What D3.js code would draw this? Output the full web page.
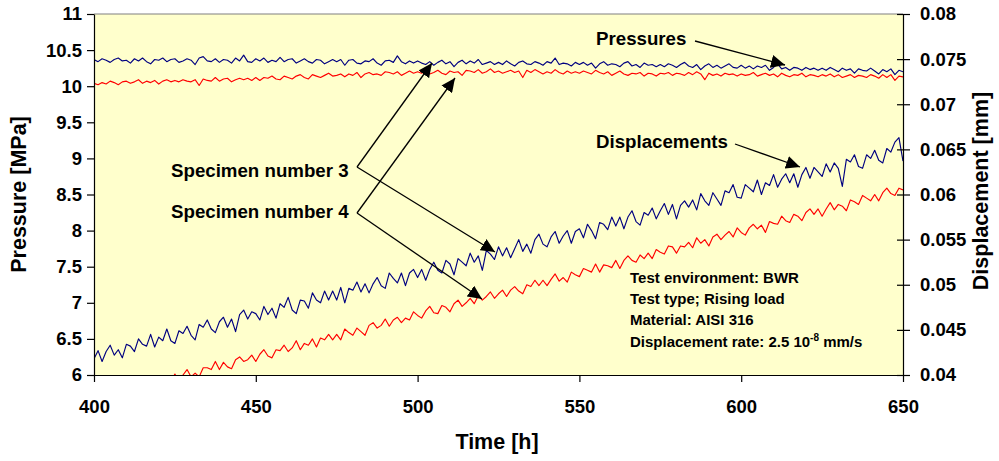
<!DOCTYPE html>
<html>
<head>
<meta charset="utf-8">
<script src="https://cdn.jsdelivr.net/npm/d3@7"></script>
<style>
  html, body { margin: 0; padding: 0; background: #ffffff; }
  svg { display: block; font-family: "Liberation Sans", Arial, sans-serif; font-weight: bold; }
</style>
</head>
<body>
<svg id="chart" width="999" height="461"></svg>
<script>
// Logger sampling: one reading every 1.25 h starting at 400 h
const timeStart = 400;
const timeStep = 1.25;

// Specimen 3 pressure [MPa]
const spec3Pressure = [
  10.37, 10.34, 10.38, 10.36, 10.33, 10.37, 10.39, 10.35, 10.36, 10.32, 10.38, 10.35, 10.39, 10.34, 10.31, 10.37, 10.36, 10.39, 10.34, 10.37,
  10.38, 10.33, 10.35, 10.38, 10.36, 10.30, 10.39, 10.41, 10.35, 10.34, 10.38, 10.33, 10.37, 10.36, 10.32, 10.39, 10.35, 10.43, 10.34, 10.33,
  10.38, 10.35, 10.39, 10.33, 10.36, 10.34, 10.40, 10.34, 10.37, 10.38, 10.32, 10.35, 10.38, 10.34, 10.32, 10.37, 10.36, 10.31, 10.34, 10.37,
  10.34, 10.37, 10.29, 10.36, 10.37, 10.32, 10.31, 10.35, 10.34, 10.38, 10.32, 10.29, 10.35, 10.36, 10.33, 10.42, 10.34, 10.31, 10.35, 10.32,
  10.35, 10.32, 10.30, 10.34, 10.29, 10.33, 10.36, 10.31, 10.34, 10.27, 10.33, 10.36, 10.31, 10.35, 10.32, 10.37, 10.30, 10.32, 10.34, 10.30,
  10.33, 10.30, 10.35, 10.31, 10.28, 10.33, 10.35, 10.31, 10.30, 10.34, 10.32, 10.29, 10.34, 10.32, 10.39, 10.30, 10.32, 10.31, 10.28, 10.33,
  10.30, 10.33, 10.29, 10.32, 10.25, 10.31, 10.34, 10.29, 10.31, 10.30, 10.27, 10.32, 10.34, 10.28, 10.30, 10.26, 10.32, 10.29, 10.30, 10.27,
  10.30, 10.27, 10.31, 10.29, 10.26, 10.30, 10.33, 10.28, 10.26, 10.30, 10.23, 10.28, 10.31, 10.26, 10.29, 10.25, 10.28, 10.31, 10.26, 10.25,
  10.29, 10.25, 10.28, 10.24, 10.28, 10.26, 10.29, 10.22, 10.26, 10.31, 10.24, 10.26, 10.22, 10.26, 10.25, 10.22, 10.26, 10.23, 10.25, 10.22,
  10.25, 10.22, 10.26, 10.23, 10.20, 10.25, 10.22, 10.24, 10.18, 10.24, 10.22, 10.21, 10.25, 10.21, 10.17, 10.23, 10.20, 10.24, 10.16, 10.22, 10.20
];

// Specimen 4 pressure [MPa]
const spec4Pressure = [
  10.04, 10.02, 10.05, 10.03, 10.07, 10.05, 10.02, 10.06, 10.07, 10.04, 10.06, 10.09, 10.04, 10.07, 10.05, 10.08, 10.03, 10.07, 10.09, 10.06,
  10.08, 10.06, 10.09, 10.07, 10.06, 10.09, 10.01, 10.10, 10.08, 10.07, 10.12, 10.07, 10.10, 10.11, 10.06, 10.09, 10.11, 10.09, 10.11, 10.08,
  10.12, 10.08, 10.12, 10.11, 10.14, 10.10, 10.09, 10.14, 10.12, 10.10, 10.14, 10.16, 10.12, 10.10, 10.16, 10.14, 10.12, 10.15, 10.18, 10.14,
  10.15, 10.17, 10.13, 10.17, 10.15, 10.19, 10.12, 10.17, 10.19, 10.16, 10.17, 10.15, 10.20, 10.19, 10.17, 10.20, 10.15, 10.18, 10.21, 10.18,
  10.20, 10.18, 10.21, 10.17, 10.19, 10.22, 10.18, 10.16, 10.21, 10.19, 10.20, 10.15, 10.22, 10.21, 10.19, 10.23, 10.18, 10.20, 10.24, 10.19,
  10.21, 10.18, 10.20, 10.22, 10.19, 10.21, 10.12, 10.22, 10.19, 10.23, 10.20, 10.17, 10.20, 10.18, 10.23, 10.19, 10.17, 10.21, 10.18, 10.20,
  10.18, 10.21, 10.19, 10.17, 10.22, 10.19, 10.17, 10.20, 10.15, 10.18, 10.21, 10.17, 10.15, 10.18, 10.17, 10.19, 10.14, 10.18, 10.17, 10.14,
  10.18, 10.17, 10.19, 10.15, 10.18, 10.17, 10.15, 10.19, 10.16, 10.20, 10.17, 10.09, 10.18, 10.15, 10.17, 10.14, 10.18, 10.16, 10.17, 10.14,
  10.17, 10.15, 10.16, 10.19, 10.14, 10.16, 10.18, 10.15, 10.17, 10.13, 10.18, 10.15, 10.13, 10.16, 10.15, 10.18, 10.13, 10.16, 10.15, 10.13,
  10.16, 10.14, 10.17, 10.13, 10.16, 10.12, 10.14, 10.16, 10.12, 10.15, 10.14, 10.12, 10.16, 10.14, 10.11, 10.16, 10.12, 10.16, 10.08, 10.14, 10.13
];

// Specimen 3 displacement [mm]
const spec3Displacement = [
  0.0418, 0.0427, 0.0415, 0.0426, 0.0433, 0.0422, 0.0428, 0.0419, 0.0434, 0.0432, 0.0426, 0.0440, 0.0434, 0.0432, 0.0445, 0.0431, 0.0442, 0.0438, 0.0451, 0.0438,
  0.0435, 0.0449, 0.0446, 0.0454, 0.0444, 0.0439, 0.0456, 0.0453, 0.0461, 0.0451, 0.0447, 0.0459, 0.0464, 0.0453, 0.0462, 0.0448, 0.0467, 0.0472, 0.0462, 0.0470,
  0.0468, 0.0461, 0.0476, 0.0467, 0.0474, 0.0463, 0.0479, 0.0475, 0.0486, 0.0472, 0.0468, 0.0483, 0.0482, 0.0474, 0.0491, 0.0483, 0.0480, 0.0493, 0.0483, 0.0493,
  0.0483, 0.0497, 0.0480, 0.0496, 0.0494, 0.0503, 0.0492, 0.0501, 0.0491, 0.0501, 0.0508, 0.0499, 0.0496, 0.0513, 0.0507, 0.0502, 0.0513, 0.0499, 0.0513, 0.0517,
  0.0508, 0.0517, 0.0505, 0.0517, 0.0525, 0.0516, 0.0513, 0.0527, 0.0523, 0.0511, 0.0529, 0.0525, 0.0521, 0.0535, 0.0525, 0.0532, 0.0516, 0.0538, 0.0534, 0.0528,
  0.0542, 0.0532, 0.0541, 0.0530, 0.0540, 0.0550, 0.0537, 0.0545, 0.0535, 0.0550, 0.0556, 0.0545, 0.0542, 0.0553, 0.0559, 0.0546, 0.0554, 0.0560, 0.0546, 0.0559,
  0.0562, 0.0552, 0.0567, 0.0560, 0.0551, 0.0569, 0.0567, 0.0561, 0.0575, 0.0565, 0.0575, 0.0562, 0.0575, 0.0582, 0.0570, 0.0566, 0.0580, 0.0577, 0.0585, 0.0573,
  0.0582, 0.0590, 0.0578, 0.0589, 0.0573, 0.0588, 0.0593, 0.0586, 0.0594, 0.0583, 0.0601, 0.0593, 0.0588, 0.0602, 0.0595, 0.0588, 0.0604, 0.0602, 0.0611, 0.0597,
  0.0596, 0.0611, 0.0607, 0.0603, 0.0616, 0.0600, 0.0613, 0.0610, 0.0622, 0.0608, 0.0617, 0.0623, 0.0613, 0.0623, 0.0608, 0.0622, 0.0630, 0.0618, 0.0630, 0.0625,
  0.0620, 0.0634, 0.0625, 0.0635, 0.0629, 0.0609, 0.0639, 0.0636, 0.0644, 0.0631, 0.0629, 0.0644, 0.0640, 0.0649, 0.0638, 0.0635, 0.0651, 0.0647, 0.0658, 0.0663, 0.0637
];

// Specimen 4 displacement [mm], recorded from 422.5 h
const spec4DisplacementStart = 422.5;
const spec4Displacement = [
  0.0397, 0.0393, 0.0401, 0.0393, 0.0400, 0.0406, 0.0398, 0.0402, 0.0398, 0.0408, 0.0408, 0.0406, 0.0415, 0.0406, 0.0414, 0.0409, 0.0407, 0.0417, 0.0420, 0.0415,
  0.0417, 0.0422, 0.0415, 0.0423, 0.0428, 0.0421, 0.0419, 0.0428, 0.0427, 0.0433, 0.0426, 0.0430, 0.0438, 0.0428, 0.0435, 0.0433, 0.0440, 0.0431, 0.0441, 0.0439,
  0.0445, 0.0439, 0.0445, 0.0439, 0.0451, 0.0447, 0.0444, 0.0452, 0.0448, 0.0444, 0.0455, 0.0458, 0.0452, 0.0455, 0.0462, 0.0454, 0.0461, 0.0464, 0.0458, 0.0463,
  0.0461, 0.0470, 0.0466, 0.0463, 0.0471, 0.0476, 0.0469, 0.0468, 0.0477, 0.0475, 0.0470, 0.0479, 0.0483, 0.0476, 0.0480, 0.0485, 0.0479, 0.0488, 0.0483, 0.0487,
  0.0492, 0.0485, 0.0490, 0.0494, 0.0487, 0.0494, 0.0498, 0.0493, 0.0490, 0.0500, 0.0498, 0.0505, 0.0499, 0.0505, 0.0499, 0.0506, 0.0512, 0.0504, 0.0508, 0.0503,
  0.0514, 0.0511, 0.0509, 0.0518, 0.0516, 0.0514, 0.0523, 0.0514, 0.0522, 0.0521, 0.0519, 0.0527, 0.0518, 0.0527, 0.0532, 0.0527, 0.0525, 0.0533, 0.0529, 0.0535,
  0.0529, 0.0539, 0.0536, 0.0534, 0.0543, 0.0542, 0.0535, 0.0543, 0.0542, 0.0547, 0.0541, 0.0552, 0.0546, 0.0550, 0.0543, 0.0553, 0.0556, 0.0550, 0.0555, 0.0559,
  0.0553, 0.0563, 0.0558, 0.0555, 0.0563, 0.0567, 0.0562, 0.0566, 0.0558, 0.0570, 0.0568, 0.0567, 0.0576, 0.0571, 0.0569, 0.0578, 0.0576, 0.0571, 0.0580, 0.0584,
  0.0578, 0.0584, 0.0576, 0.0584, 0.0591, 0.0583, 0.0589, 0.0587, 0.0582, 0.0594, 0.0592, 0.0589, 0.0599, 0.0596, 0.0593, 0.0600, 0.0593, 0.0602, 0.0607, 0.0601,
  0.0599, 0.0607, 0.0605
];

// Axis ticks
const timeTicks = [400, 450, 500, 550, 600, 650];
const pressureTicks = [6, 6.5, 7, 7.5, 8, 8.5, 9, 9.5, 10, 10.5, 11];
const displacementTicks = [0.04, 0.045, 0.05, 0.055, 0.06, 0.065, 0.07, 0.075, 0.08];

// Test condition lines
const infoLines = ["Test environment: BWR", "Test type; Rising load", "Material: AISI 316"];

const svg = d3.select("#chart");
const plot = { left: 94, right: 903, top: 14, bottom: 375 };

const x = d3.scaleLinear().domain([400, 650]).range([plot.left, plot.right]);
const yP = d3.scaleLinear().domain([6, 11]).range([plot.bottom, plot.top]);
const yD = d3.scaleLinear().domain([0.04, 0.08]).range([plot.bottom, plot.top]);

// plot background
svg.append("rect")
  .attr("x", plot.left).attr("y", plot.top)
  .attr("width", plot.right - plot.left).attr("height", plot.bottom - plot.top)
  .attr("fill", "#FFFFCC");

svg.append("line")
  .attr("x1", plot.left).attr("x2", plot.right)
  .attr("y1", plot.top).attr("y2", plot.top)
  .attr("stroke", "#808080").attr("stroke-width", 1.2);

const defs = svg.append("defs");
defs.append("clipPath").attr("id", "plotClip")
  .append("rect")
  .attr("x", plot.left).attr("y", plot.top)
  .attr("width", plot.right - plot.left).attr("height", plot.bottom - plot.top);

// series
const lineFrom = (values, start, yScale) =>
  d3.line()
    .x((d, i) => x(start + i * timeStep))
    .y(d => yScale(d))(values);

const series = svg.append("g").attr("clip-path", "url(#plotClip)")
  .attr("fill", "none").attr("stroke-width", 1.15).attr("stroke-linejoin", "round");
series.append("path").attr("d", lineFrom(spec4Pressure, timeStart, yP)).attr("stroke", "#FF0000");
series.append("path").attr("d", lineFrom(spec3Pressure, timeStart, yP)).attr("stroke", "#000080");
series.append("path").attr("d", lineFrom(spec4Displacement, spec4DisplacementStart, yD)).attr("stroke", "#FF0000");
series.append("path").attr("d", lineFrom(spec3Displacement, timeStart, yD)).attr("stroke", "#000080");

// axes
const tickFont = 18.5;
const styleAxis = g => {
  g.selectAll("path.domain").attr("stroke", "#000").attr("stroke-width", 1.2);
  g.selectAll(".tick line").attr("stroke", "#000").attr("stroke-width", 1.2);
  g.selectAll(".tick text")
    .attr("fill", "#000")
    .style("font-family", '"Liberation Sans", Arial, sans-serif')
    .style("font-weight", "bold")
    .style("font-size", tickFont + "px");
};

svg.append("g")
  .attr("transform", `translate(0,${plot.bottom})`)
  .call(d3.axisBottom(x).tickValues(timeTicks).tickSize(7).tickSizeOuter(0).tickPadding(18).tickFormat(d => d))
  .call(styleAxis);

svg.append("g")
  .attr("transform", `translate(${plot.left},0)`)
  .call(d3.axisLeft(yP).tickValues(pressureTicks).tickSize(7).tickSizeOuter(0).tickPadding(5).tickFormat(d => d))
  .call(styleAxis);

const rightAxis = svg.append("g")
  .attr("transform", `translate(${plot.right},0)`)
  .call(d3.axisRight(yD).tickValues(displacementTicks).tickSize(7).tickSizeOuter(0).tickPadding(10).tickFormat(d => d))
  .call(styleAxis);
rightAxis.selectAll(".tick line").attr("x1", -6);

// axis titles
const titleFont = 21.5;
svg.append("text")
  .attr("transform", `translate(26,${(plot.top + plot.bottom) / 2}) rotate(-90)`)
  .attr("text-anchor", "middle")
  .style("font-size", titleFont + "px")
  .text("Pressure [MPa]");

svg.append("text")
  .attr("transform", "translate(988,191) rotate(-90)")
  .attr("text-anchor", "middle")
  .style("font-size", titleFont + "px")
  .text("Displacement [mm]");

svg.append("text")
  .attr("x", 497).attr("y", 449)
  .attr("text-anchor", "middle")
  .style("font-size", titleFont + "px")
  .text("Time [h]");

// callouts with arrows
defs.append("marker")
  .attr("id", "arrowHead")
  .attr("markerUnits", "userSpaceOnUse")
  .attr("markerWidth", 15).attr("markerHeight", 13)
  .attr("refX", 14).attr("refY", 6.5)
  .attr("orient", "auto")
  .append("path").attr("d", "M0,0 L14,6.5 L0,13 Z").attr("fill", "#000");

const labelFont = 18.7;
const labels = [
  { text: "Pressures", x: 596, y: 45 },
  { text: "Displacements", x: 596, y: 148 },
  { text: "Specimen number 3", x: 171, y: 177 },
  { text: "Specimen number 4", x: 171, y: 218 }
];
svg.selectAll("text.label").data(labels).enter().append("text")
  .attr("class", "label")
  .attr("x", d => d.x).attr("y", d => d.y)
  .style("font-size", labelFont + "px")
  .text(d => d.text);

const arrows = [
  [695, 41, 785, 65],
  [735, 144, 800, 167],
  [357, 167, 432, 63],
  [357, 167, 495, 252],
  [357, 213, 455, 78],
  [357, 213, 482, 299]
];
svg.selectAll("line.arrow").data(arrows).enter().append("line")
  .attr("class", "arrow")
  .attr("x1", d => d[0]).attr("y1", d => d[1])
  .attr("x2", d => d[2]).attr("y2", d => d[3])
  .attr("stroke", "#000").attr("stroke-width", 1.3)
  .attr("marker-end", "url(#arrowHead)");

// test conditions
const info = svg.append("g").style("font-size", "15px");
infoLines.forEach((t, i) => {
  info.append("text").attr("x", 630).attr("y", [283, 304, 325][i]).text(t);
});
const rate = info.append("text").attr("x", 630).attr("y", 347);
rate.append("tspan").text("Displacement rate: 2.5 10");
rate.append("tspan").attr("dy", -6).style("font-size", "10px").text("-8");
rate.append("tspan").attr("dy", 6).text(" mm/s");
</script>
</body>
</html>
